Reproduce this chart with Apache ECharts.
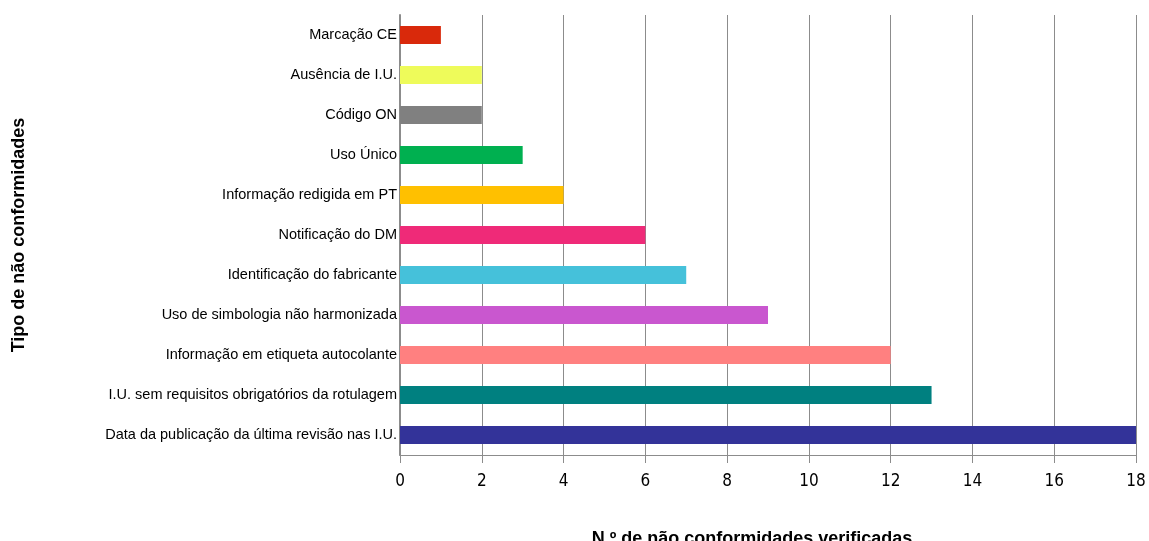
<!DOCTYPE html>
<html>
<head>
<meta charset="utf-8">
<script src="https://cdn.jsdelivr.net/npm/echarts@6/dist/echarts.min.js"></script>
<style>html,body{margin:0;padding:0;background:#fff}#c{width:1149px;height:541px}</style>
</head>
<body>
<div id="c"></div>
<script>
const categories = ["Marcação CE","Ausência de I.U.","Código ON","Uso Único","Informação redigida em PT","Notificação do DM","Identificação do fabricante","Uso de simbologia não harmonizada","Informação em etiqueta autocolante","I.U. sem requisitos obrigatórios da rotulagem","Data da publicação da última revisão nas I.U."];
const values = [1,2,2,3,4,6,7,9,12,13,18];
const colors = ["#D9290B","#EEFB5A","#808080","#00B050","#FFC000","#EF2A78","#45C1DA","#C957CF","#FF8080","#008080","#333399"];
const xTicks = [0,2,4,6,8,10,12,14,16,18];

const chart = echarts.init(document.getElementById('c'));
chart.setOption({
  animation:false,
  grid:{left:400,right:13,top:15,bottom:86,containLabel:false,outerBoundsMode:'none'},
  xAxis:{type:'value',min:0,max:18,interval:2,
    name:'N.º de não conformidades verificadas',nameLocation:'middle',nameGap:75,
    nameTextStyle:{fontFamily:'Liberation Sans',fontWeight:'bold',fontSize:18,color:'#000',padding:[0,32,0,0]},
    axisLine:{show:true,lineStyle:{color:'#8c8c8c',width:1}},
    axisTick:{show:true,length:8,lineStyle:{color:'#8c8c8c'}},
    axisLabel:{fontFamily:'DejaVu Sans Condensed, Liberation Sans Narrow, sans-serif',fontSize:17,color:'#000',margin:18,
      formatter:v=>xTicks.includes(v)?String(v):''},
    splitLine:{show:true,lineStyle:{color:'#8c8c8c',width:1}}},
  yAxis:{type:'category',data:categories,inverse:true,
    name:'Tipo de não conformidades',nameLocation:'middle',nameGap:372,nameRotate:90,
    nameTextStyle:{fontFamily:'Liberation Sans',fontWeight:'bold',fontSize:18,color:'#000'},
    axisLine:{show:true,lineStyle:{color:'#8c8c8c',width:2}},
    axisTick:{show:false},
    axisLabel:{fontFamily:'Liberation Sans',fontSize:14.5,color:'#000',margin:3}},
  series:[{type:'bar',barWidth:18,
    data:values.map((v,i)=>({value:v,itemStyle:{color:colors[i]}}))}]
});
</script>
</body>
</html>
